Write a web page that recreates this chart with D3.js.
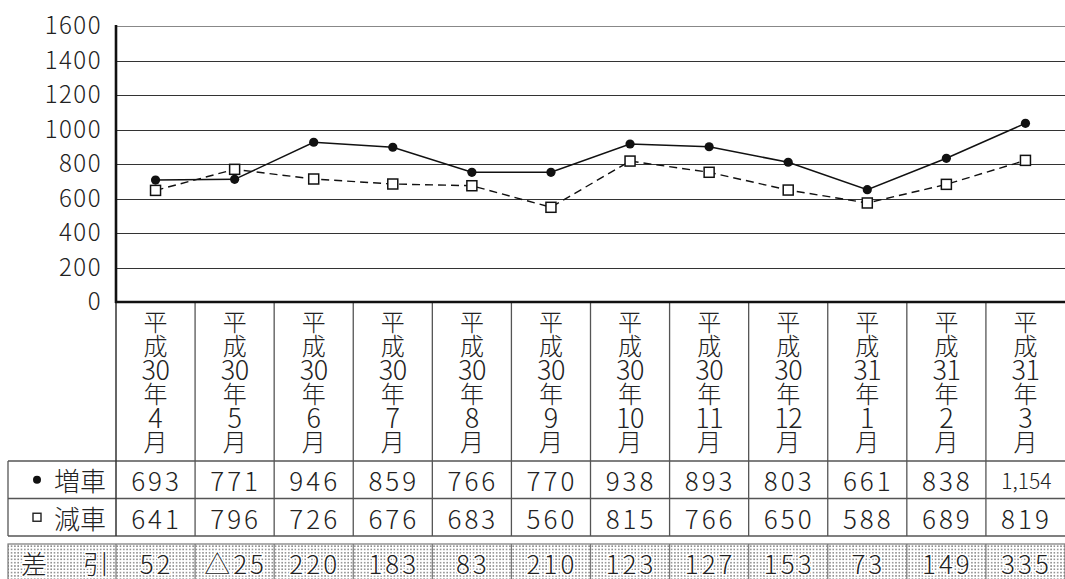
<!DOCTYPE html>
<html lang="ja">
<head>
<meta charset="utf-8">
<title>増車・減車</title>
<script src="https://cdn.jsdelivr.net/npm/d3@7"></script>
<style>
  body { margin: 0; background: #fff; }
  svg { display: block; font-family: "Noto Sans CJK JP", sans-serif; font-weight: 300; }
  .grid line { stroke: #333; stroke-width: 1; shape-rendering: crispEdges; }
  .grid path { stroke-width: 0; }
  .yaxis path, .yaxis line { display: none; }
  .yaxis text { font-size: 24px; fill: #222; font-family: "Noto Sans CJK JP", sans-serif; font-weight: 300; letter-spacing: 1.5px; }
  .cell { font-size: 26px; fill: #222; }
  .cat { font-size: 24px; fill: #222; }
</style>
</head>
<body>
<script>
  // categories (vertical labels are split into stacked pieces)
  var months = ["H30-4", "H30-5", "H30-6", "H30-7", "H30-8", "H30-9", "H30-10", "H30-11", "H30-12", "H31-1", "H31-2", "H31-3"];
  var monthLabels = [
    ["平", "成", "30", "年", "4", "月"],
    ["平", "成", "30", "年", "5", "月"],
    ["平", "成", "30", "年", "6", "月"],
    ["平", "成", "30", "年", "7", "月"],
    ["平", "成", "30", "年", "8", "月"],
    ["平", "成", "30", "年", "9", "月"],
    ["平", "成", "30", "年", "10", "月"],
    ["平", "成", "30", "年", "11", "月"],
    ["平", "成", "30", "年", "12", "月"],
    ["平", "成", "31", "年", "1", "月"],
    ["平", "成", "31", "年", "2", "月"],
    ["平", "成", "31", "年", "3", "月"]
  ];

  // plotted points, as drawn in the chart
  var increase = [707, 711, 926, 897, 752, 752, 916, 900, 810, 651, 833, 1036];
  var decrease = [647, 769, 713, 684, 674, 549, 817, 752, 649, 574, 682, 821];

  // table rows
  var increaseText = ["693", "771", "946", "859", "766", "770", "938", "893", "803", "661", "838", "1,154"];
  var decreaseText = ["641", "796", "726", "676", "683", "560", "815", "766", "650", "588", "689", "819"];
  var diffText = ["52", "△25", "220", "183", "83", "210", "123", "127", "153", "73", "149", "335"];

  var yTicks = [0, 200, 400, 600, 800, 1000, 1200, 1400, 1600];

  var w = 1065, h = 579;
  var plotLeft = 116, plotRight = 1065, plotTop = 26, plotBase = 302;
  var tableLeft = 8;
  var rowCat = 461, row1 = 498.5, row2 = 536, diffTop = 544;

  var svg = d3.select("body").append("svg")
    .attr("width", w)
    .attr("height", h);

  // dotted fill for 差引 row
  var pat = svg.append("defs").append("pattern")
    .attr("id", "dots")
    .attr("width", 3.3)
    .attr("height", 3.3)
    .attr("patternUnits", "userSpaceOnUse");
  pat.append("rect").attr("width", 3.3).attr("height", 3.3).attr("fill", "#fff");
  pat.append("rect").attr("x", 1).attr("y", 1).attr("width", 1.4).attr("height", 1.4).attr("fill", "#6e6e6e");

  var x = d3.scaleBand().domain(months).range([plotLeft, plotRight]);
  var y = d3.scaleLinear().domain([0, 1600]).range([plotBase, plotTop]);

  // gridlines
  svg.append("g")
    .attr("class", "grid")
    .attr("transform", "translate(" + plotLeft + ",0)")
    .call(d3.axisLeft(y).tickValues(yTicks.slice(1)).tickSize(-(plotRight - plotLeft)).tickFormat(""));
  svg.select(".grid").selectAll("line")
    .filter(function(d) { return d === 1600; })
    .style("stroke", "#888")
    .style("stroke-width", 1.5);

  // y labels
  svg.append("g")
    .attr("class", "yaxis")
    .attr("transform", "translate(" + (plotLeft - 14) + ",0)")
    .call(d3.axisLeft(y).tickValues(yTicks).tickSize(0).tickPadding(0).tickFormat(d3.format("d")));

  // table: category area and value rows
  var bounds = months.map(function(m) { return x(m); }).concat([plotRight]);

  svg.append("g").selectAll("line")
    .data(bounds.slice(1, 12))
    .enter().append("line")
    .attr("x1", function(d) { return d; })
    .attr("x2", function(d) { return d; })
    .attr("y1", plotBase)
    .attr("y2", row2)
    .attr("stroke", "#555")
    .attr("stroke-width", 1.3);

  svg.append("g").selectAll("line")
    .data([rowCat, row1, row2])
    .enter().append("line")
    .attr("x1", tableLeft)
    .attr("x2", plotRight)
    .attr("y1", function(d) { return d; })
    .attr("y2", function(d) { return d; })
    .attr("stroke", "#555")
    .attr("stroke-width", 1.3);

  svg.append("line")
    .attr("x1", tableLeft).attr("x2", tableLeft)
    .attr("y1", rowCat).attr("y2", row2)
    .attr("stroke", "#555").attr("stroke-width", 1.3);
  svg.append("line")
    .attr("x1", plotLeft).attr("x2", plotLeft)
    .attr("y1", plotBase).attr("y2", row2)
    .attr("stroke", "#333").attr("stroke-width", 1.5);

  // vertical month labels: one text per column, stacked with tspans
  svg.append("g").selectAll("text")
    .data(months)
    .enter().append("text")
    .attr("class", "cat")
    .attr("text-anchor", "middle")
    .attr("transform", function(d) { return "translate(" + (x(d) + x.bandwidth() / 2) + ",0)"; })
    .each(function(d, i) {
      d3.select(this).selectAll("tspan")
        .data(monthLabels[i])
        .enter().append("tspan")
        .attr("x", 0)
        .attr("y", function(s, k) { return 320 + k * 24; })
        .attr("dominant-baseline", "central")
        .style("font-size", function(s) { return /\d/.test(s) ? "27px" : null; })
        .style("letter-spacing", function(s) { return s.length > 1 ? "-0.5px" : null; })
        .text(function(s) { return s; });
    });

  // value rows
  function valueRow(vals, yMid) {
    svg.append("g").selectAll("text")
      .data(vals)
      .enter().append("text")
      .attr("class", "cell")
      .attr("x", function(d, i) { return x(months[i]) + x.bandwidth() / 2 + 1; })
      .attr("y", yMid)
      .attr("text-anchor", "middle")
      .attr("dominant-baseline", "central")
      .style("font-size", function(d) { return d.length > 4 ? "21px" : null; })
      .style("letter-spacing", function(d) { return d.length > 4 ? "0px" : "3px"; })
      .text(function(d) { return d; });
  }
  valueRow(increaseText, (rowCat + row1) / 2);
  valueRow(decreaseText, (row1 + row2) / 2);

  // row labels
  svg.append("circle").attr("cx", 37).attr("cy", (rowCat + row1) / 2).attr("r", 4).attr("fill", "#111");
  svg.append("rect").attr("x", 33).attr("y", (row1 + row2) / 2 - 4).attr("width", 8).attr("height", 8)
    .attr("fill", "#fff").attr("stroke", "#222").attr("stroke-width", 1.4);
  svg.append("text").attr("class", "cell").attr("x", 80).attr("y", (rowCat + row1) / 2)
    .attr("text-anchor", "middle").attr("dominant-baseline", "central").text("増車");
  svg.append("text").attr("class", "cell").attr("x", 80).attr("y", (row1 + row2) / 2)
    .attr("text-anchor", "middle").attr("dominant-baseline", "central").text("減車");

  // 差引 row
  svg.append("rect")
    .attr("x", tableLeft).attr("y", diffTop)
    .attr("width", plotRight - tableLeft).attr("height", h - diffTop + 2)
    .attr("fill", "url(#dots)")
    .attr("stroke", "#777").attr("stroke-width", 1.2);
  svg.append("g").selectAll("line")
    .data(bounds.slice(0, 12))
    .enter().append("line")
    .attr("x1", function(d) { return d; })
    .attr("x2", function(d) { return d; })
    .attr("y1", diffTop)
    .attr("y2", h)
    .attr("stroke", "#777")
    .attr("stroke-width", 1.2);
  svg.append("g").selectAll("text")
    .data(diffText)
    .enter().append("text")
    .attr("class", "cell")
    .attr("x", function(d, i) { return x(months[i]) + x.bandwidth() / 2 + 1; })
    .attr("y", diffTop + 18)
    .attr("text-anchor", "middle")
    .attr("dominant-baseline", "central")
    .style("letter-spacing", "3px")
    .style("paint-order", "stroke")
    .attr("stroke", "#fff")
    .attr("stroke-width", 3)
    .attr("fill", "#444")
    .text(function(d) { return d; });
  svg.append("text").attr("class", "cell").attr("x", 34).attr("y", diffTop + 18)
    .attr("text-anchor", "middle").attr("dominant-baseline", "central")
    .style("paint-order", "stroke").attr("stroke", "#fff").attr("stroke-width", 3).attr("fill", "#444").text("差");
  svg.append("text").attr("class", "cell").attr("x", 96).attr("y", diffTop + 18)
    .attr("text-anchor", "middle").attr("dominant-baseline", "central")
    .style("paint-order", "stroke").attr("stroke", "#fff").attr("stroke-width", 3).attr("fill", "#444").text("引");

  // axes (thick left and bottom)
  svg.append("line").attr("x1", plotLeft).attr("x2", plotLeft).attr("y1", plotTop - 1).attr("y2", plotBase + 1)
    .attr("stroke", "#111").attr("stroke-width", 2.6);
  svg.append("line").attr("x1", plotLeft - 1).attr("x2", plotRight).attr("y1", plotBase).attr("y2", plotBase)
    .attr("stroke", "#111").attr("stroke-width", 2.6);

  // lines
  var cx = function(d, i) { return x(months[i]) + x.bandwidth() / 2; };
  var line = d3.line().x(cx).y(function(d) { return y(d); });

  svg.append("path").datum(decrease)
    .attr("d", line).attr("fill", "none")
    .attr("stroke", "#111").attr("stroke-width", 1.4).attr("stroke-dasharray", "8,5");
  svg.append("path").datum(increase)
    .attr("d", line).attr("fill", "none")
    .attr("stroke", "#111").attr("stroke-width", 1.5);

  svg.append("g").selectAll("rect")
    .data(decrease)
    .enter().append("rect")
    .attr("x", function(d, i) { return cx(d, i) - 5; })
    .attr("y", function(d) { return y(d) - 5; })
    .attr("width", 10).attr("height", 10)
    .attr("fill", "#fff").attr("stroke", "#111").attr("stroke-width", 1.5);
  svg.append("g").selectAll("circle")
    .data(increase)
    .enter().append("circle")
    .attr("cx", cx)
    .attr("cy", function(d) { return y(d); })
    .attr("r", 4.6)
    .attr("fill", "#111");
</script>
</body>
</html>
